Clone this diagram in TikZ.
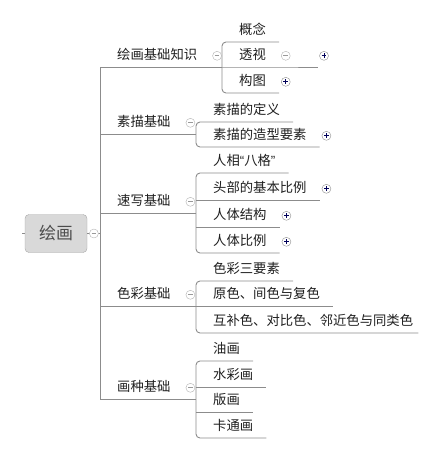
\documentclass[tikz,border=0pt]{standalone}
\usepackage{fontspec}
\setmainfont{Noto Sans CJK SC}
\newfontfamily\latinq{Liberation Sans}
\usetikzlibrary{positioning,calc}

\begin{document}
\begin{tikzpicture}[x=1pt, y=-1pt,
    rootbox/.style={draw=black!35, fill=black!15, rounded corners=4pt,
        minimum width=62pt, minimum height=38pt, text=black!70,
        font=\fontsize{17pt}{20pt}\selectfont},
    topic/.style={anchor=south west, inner xsep=13pt, inner ysep=5pt,
        text height=10pt, text depth=2pt, text=black!88,
        font=\fontsize{13.33pt}{16pt}\selectfont,
        execute at begin node={\hspace*{4pt}}},
    link/.style={draw=black!45, line width=0.9pt},
    fold/.style={circle, fill=white, minimum size=9pt, inner sep=0pt},
    foldmin/.style={fold, draw=black!30, path picture={\draw[black!40, line width=0.7pt]
        ([xshift=-2.4pt]path picture bounding box.center) -- ([xshift=2.4pt]path picture bounding box.center);}},
    foldplus/.style={fold, draw=black!45, path picture={\draw[black!65!blue, line width=0.7pt]
        ([xshift=-2.4pt]path picture bounding box.center) -- ([xshift=2.4pt]path picture bounding box.center)
        ([yshift=-2.4pt]path picture bounding box.center) -- ([yshift=2.4pt]path picture bounding box.center);}}
  ]
  \useasboundingbox (0,0) rectangle (439,451);

  % Root
  \node[rootbox] (root) at (56,233.5) {绘画};

  % Main branches
  \node[topic] (jc) at (100,67) {绘画基础知识};
  \node[topic] (sm) at (100,134) {素描基础};
  \node[topic] (sx) at (100,213) {速写基础};
  \node[topic] (sc) at (100,306) {色彩基础};
  \node[topic] (hz) at (100,399) {画种基础};

  % Sub topics
  \node[topic] (gn) at (222,42) {概念};
  \node[topic] (ts) at (222,67) {透视};
  \node[topic] (gt) at (222,93) {构图};
  \node[topic] (smdy) at (196,122) {素描的定义};
  \node[topic] (smzx) at (196,147) {素描的造型要素};
  \node[topic] (rx) at (196,173) {人相{\latinq“}八格{\latinq”}};
  \node[topic] (tb) at (196,200) {头部的基本比例};
  \node[topic] (rtjg) at (196,227) {人体结构};
  \node[topic] (rtbl) at (196,253) {人体比例};
  \node[topic] (sy) at (196,281) {色彩三要素};
  \node[topic] (ys) at (196,306) {原色、间色与复色};
  \node[topic, inner xsep=5pt, execute at begin node={\hspace*{8pt}}] (hb) at (196,333) {互补色、对比色、邻近色与同类色};
  \node[topic] (yh) at (196,361) {油画};
  \node[topic] (scs) at (196,387) {水彩画};
  \node[topic] (bh) at (196,412) {版画};
  \node[topic] (kt) at (196,438) {卡通画};
  \coordinate (tsx) at (318,67);

  % Connections
  \draw[link] (root.west) -- ++(-3,0);
  \draw[link] (root.east) -- (root.east -| jc.south west);
  \draw[link] (jc.south west) -- (hz.south west);
  \draw[link] (jc.south west) -- (jc.south west -| gn.south west);
  \draw[link] (sm.south west) -- (sm.south west -| smdy.south west);
  \draw[link] (sx.south west) -- (sx.south west -| rx.south west);
  \draw[link] (sc.south west) -- (sc.south west -| sy.south west);
  \draw[link] (hz.south west) -- (hz.south west -| yh.south west);

  \draw[link, rounded corners=4pt] (gn.south east) -- (gn.south west) -- (gt.south west) -- (gt.south east);
  \draw[link] (ts.south west) -- (ts.south east) -- (tsx);
  \draw[link, rounded corners=4pt] (smdy.south east) -- (smdy.south west) -- (smzx.south west) -- (smzx.south east);
  \draw[link, rounded corners=4pt] (rx.south east) -- (rx.south west) -- (rtbl.south west) -- (rtbl.south east);
  \draw[link] (tb.south west) -- (tb.south east);
  \draw[link] (rtjg.south west) -- (rtjg.south east);
  \draw[link, rounded corners=4pt] (sy.south east) -- (sy.south west) -- (hb.south west) -- (hb.south east);
  \draw[link] (ys.south west) -- (ys.south east);
  \draw[link, rounded corners=4pt] (yh.south east) -- (yh.south west) -- (kt.south west) -- (kt.south east);
  \draw[link] (scs.south west) -- (scs.south east);
  \draw[link] (bh.south west) -- (bh.south east);

  % Fold markers
  \node[foldmin, right=2pt of root] (f0) {};
  \node[foldmin, right=2pt of jc] (fjc) {};
  \node[foldmin, right=2pt of sm] (fsm) {};
  \node[foldmin, right=2pt of sx] (fsx) {};
  \node[foldmin, right=2pt of sc] (fsc) {};
  \node[foldmin, right=2pt of hz] (fhz) {};
  \node[foldmin, right=2pt of ts] (fts) {};
  \node[foldplus] (fts2) at ($(tsx |- ts.east)+(6,0)$) {};
  \node[foldplus, right=2pt of gt] (fgt) {};
  \node[foldplus, right=2pt of smzx] (fsmzx) {};
  \node[foldplus, right=2pt of tb] (ftb) {};
  \node[foldplus, right=2pt of rtjg] (frtjg) {};
  \node[foldplus, right=2pt of rtbl] (frtbl) {};
\end{tikzpicture}
\end{document}
